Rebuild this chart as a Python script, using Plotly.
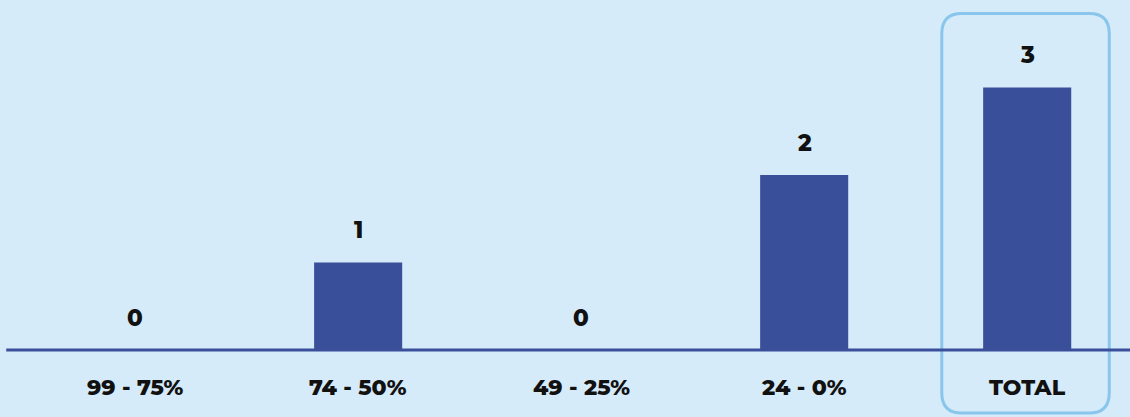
import plotly.graph_objects as go

categories = ["99 - 75%", "74 - 50%", "49 - 25%", "24 - 0%", "TOTAL"]
values = [0, 1, 0, 2, 3]

BG = "#d5ebfa"
BAR = "#3a4f9a"
BOX = "#8ac6ec"
FONT = "Montserrat, 'Open Sans', Lato, sans-serif"

xs = list(range(len(categories)))

fig = go.Figure()
fig.add_trace(go.Bar(x=xs, y=values, width=0.395, marker=dict(color=BAR, line=dict(width=0)),
                     hoverinfo="skip"))

annotations = []
for x, v in zip(xs, values):
    annotations.append(dict(x=x, y=v, xref="x", yref="y", text=str(v), showarrow=False,
                            yshift=32, yanchor="middle",
                            font=dict(family=FONT, size=23, color="#111111", weight=800)))
for x, c in zip(xs, categories):
    annotations.append(dict(x=x, y=-0.434, xref="x", yref="y", text=c, showarrow=False,
                            yanchor="middle",
                            font=dict(family=FONT, size=22, color="#111111", weight=800)))

# rounded highlight box around TOTAL
cx = xs[-1]
x0, x1 = cx - 0.383, cx + 0.368
y0, y1 = -0.72, 3.846
rx, ry = 0.09, 0.229
path = (f"M {x0+rx},{y1} L {x1-rx},{y1} Q {x1},{y1} {x1},{y1-ry} "
        f"L {x1},{y0+ry} Q {x1},{y0} {x1-rx},{y0} L {x0+rx},{y0} "
        f"Q {x0},{y0} {x0},{y0+ry} L {x0},{y1-ry} Q {x0},{y1} {x0+rx},{y1} Z")

shapes = [
    dict(type="path", path=path, xref="x", yref="y", line=dict(color=BOX, width=3), layer="below"),
    dict(type="line", x0=-0.578, x1=4.6, y0=0, y1=0, xref="x", yref="y",
         line=dict(color=BAR, width=3), layer="above"),
]

fig.update_layout(
    width=1130, height=417,
    margin=dict(l=0, r=0, t=0, b=0),
    paper_bgcolor=BG, plot_bgcolor=BG,
    showlegend=False,
    xaxis=dict(range=[-0.606, 4.461], showgrid=False, zeroline=False, showticklabels=False,
               fixedrange=True),
    yaxis=dict(range=[-0.766, 4.0], showgrid=False, zeroline=False, showticklabels=False,
               fixedrange=True),
    annotations=annotations,
    shapes=shapes,
)

fig.write_html("out.html", config={"displayModeBar": False},
               post_script="document.body.style.margin='0';document.body.style.overflow='hidden';document.body.style.background='%s';" % BG)
